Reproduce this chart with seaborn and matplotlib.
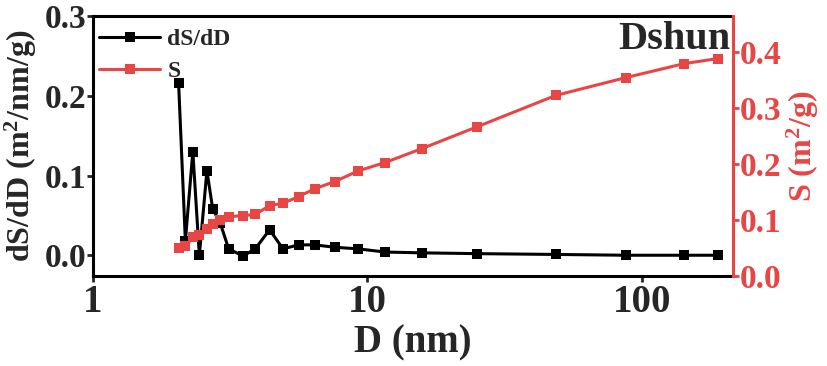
import numpy as np
import pandas as pd
import matplotlib
matplotlib.use("Agg")
import matplotlib.pyplot as plt
import matplotlib.ticker as mticker
import seaborn as sns

# pore diameter (nm)
diameter = [2.05, 2.17, 2.31, 2.44, 2.60, 2.73, 2.91, 3.12, 3.52, 3.90, 4.40,
            4.92, 5.61, 6.42, 7.61, 9.25, 11.6, 15.8, 25.1, 48.5, 87.5, 142.6, 189.0]
# dS/dD (m2/nm/g)
ds_dd = [0.216, 0.018, 0.130, 0.000, 0.106, 0.058, 0.040, 0.008, -0.001, 0.008, 0.032,
         0.008, 0.013, 0.013, 0.010, 0.008, 0.004, 0.003, 0.002, 0.001, 0.000, 0.000, 0.000]
# cumulative S (m2/g)
s_cum = [0.050, 0.053, 0.069, 0.074, 0.084, 0.093, 0.100, 0.106, 0.108, 0.110, 0.126,
         0.130, 0.142, 0.156, 0.169, 0.188, 0.203, 0.228, 0.267, 0.323, 0.355, 0.380, 0.389]

RED = '#e84545'

sns.set_style("ticks")
plt.rcParams['font.family'] = ['Liberation Serif', 'DejaVu Serif']
plt.rcParams['font.weight'] = 'bold'
plt.rcParams['axes.labelweight'] = 'bold'
plt.rcParams['mathtext.default'] = 'regular'

df = pd.DataFrame({'D': diameter, 'dSdD': ds_dd, 'S': s_cum})

fig = plt.figure(figsize=(8.27, 3.66), dpi=100)
ax = fig.add_axes([0.1125, 0.246, 0.774, 0.710])
ax2 = ax.twinx()

sns.lineplot(data=df, x='D', y='dSdD', ax=ax, color='black', marker='s',
             markersize=7, markeredgewidth=0, linewidth=2.2, label='dS/dD',
             legend=False)
sns.lineplot(data=df, x='D', y='S', ax=ax2, color=RED, marker='s',
             markersize=7, markeredgewidth=0, linewidth=2.2, label='S',
             legend=False)

ax.set_xscale('log')
ax.set_xlim(1, 215)
ax.set_ylim(-0.026, 0.3)
ax2.set_ylim(0, 0.465)

ax.xaxis.set_major_locator(mticker.FixedLocator([1, 10, 100]))
ax.xaxis.set_major_formatter(mticker.FuncFormatter(lambda v, p: f'{v:g}'))
ax.xaxis.set_minor_locator(mticker.NullLocator())
ax.set_yticks([0.0, 0.1, 0.2, 0.3])
ax.yaxis.set_major_formatter(mticker.FormatStrFormatter('%.1f'))
ax2.set_yticks([0.0, 0.1, 0.2, 0.3, 0.4])
ax2.yaxis.set_major_formatter(mticker.FormatStrFormatter('%.1f'))

ax.set_xlabel('D (nm)', fontsize=28, fontweight='bold', labelpad=2)
ax.set_ylabel('dS/dD (m$^2$/nm/g)', fontsize=23, fontweight='bold', labelpad=4)
ax2.set_ylabel('S (m$^2$/g)', fontsize=23, fontweight='bold', color=RED, labelpad=2)

ax.tick_params(axis='x', labelsize=28, width=2, length=4, pad=2)
ax.tick_params(axis='y', labelsize=24, width=2, length=4, pad=1)
ax2.tick_params(axis='y', labelsize=24, width=2, length=4, pad=1,
                colors=RED)

for side in ['left', 'top', 'bottom']:
    ax.spines[side].set_linewidth(2.2)
    ax.spines[side].set_color('black')
    ax2.spines[side].set_visible(False)
ax.spines['right'].set_visible(False)
ax2.spines['right'].set_visible(True)
ax2.spines['right'].set_color(RED)
ax2.spines['right'].set_linewidth(2.2)

h1, l1 = ax.get_legend_handles_labels()
h2, l2 = ax2.get_legend_handles_labels()
ax2.legend(h1 + h2, l1 + l2, loc='upper left', bbox_to_anchor=(0.0, 0.975),
           frameon=False, prop={'size': 17, 'weight': 'bold'},
           handlelength=2.6, borderaxespad=0.05, borderpad=0.2,
           labelspacing=0.45, handletextpad=0.3)

ax2.text(0.995, 0.98, 'Dshun', transform=ax2.transAxes, ha='right', va='top',
         fontsize=29, fontweight='bold')

fig.savefig('out.png', dpi=100)
